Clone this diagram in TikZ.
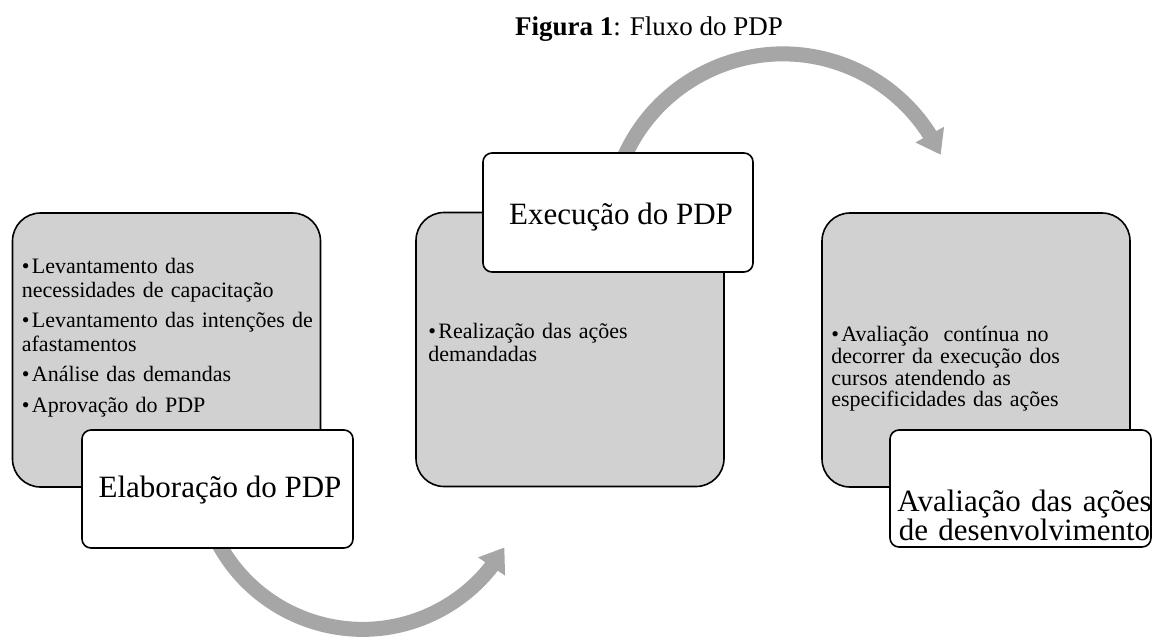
\documentclass[tikz,border=0pt]{standalone}
\usepackage{fontspec}
\setmainfont{Liberation Serif}
\usetikzlibrary{arrows.meta,bending}
\definecolor{boxgray}{RGB}{209,209,209}
\definecolor{arrowgray}{RGB}{166,166,166}
\newcommand{\itm}[1]{\hangindent=10pt\hangafter=1\noindent\makebox[10pt][l]{\textbullet}#1\par}

\begin{document}
\begin{tikzpicture}[x=1pt,y=-1pt,
    stagebox/.style={draw,line width=1.6pt,fill=boxgray,rounded corners=28pt,minimum width=308pt,minimum height=274pt,inner sep=0pt},
    namebox/.style={draw,line width=1.6pt,fill=white,rounded corners=9pt,minimum height=118pt,inner sep=0pt},
    itemtext/.style={anchor=north west,inner sep=0pt,align=left,text width=#1,font=\fontsize{22}{23.5}\selectfont,execute at begin node={\setlength{\parindent}{0pt}\setlength{\parskip}{7pt}}},
    nametext/.style={inner sep=0pt,align=center,font=\fontsize{31}{25}\selectfont},
    flow/.style={draw=arrowgray,line width=15pt,-{Triangle[width=31pt,length=23pt]}}]
    \useasboundingbox (0,0) rectangle (1153,640);

    \node[font=\fontsize{27}{30}\selectfont,anchor=base] (title) at (649,35) {\textbf{Figura 1}: Fluxo do PDP};

    \coordinate (s1) at (216.6,539.9);
    \coordinate (s2) at (621.8,162.6);
    \draw[flow] (s1) arc[start angle=153,end angle=30,radius=163.8];
    \draw[flow] (s2) arc[start angle=202,end angle=335.2,radius=173.8];

    \node[stagebox] (b1) at (166.5,350) {};
    \node[stagebox] (b2) at (570,349.5) {};
    \node[stagebox] (b3) at (976,350) {};

    \node[itemtext=300pt] (t1) at ([xshift=10pt,yshift=-46pt]b1.north west) {%
      \itm{Levantamento das\\necessidades de capacitação}
      \itm{Levantamento das intenções de\\afastamentos}
      \itm{Análise das demandas}
      \itm{Aprovação do PDP}};
    \node[itemtext=280pt] (t2) at ([xshift=13pt,yshift=-111pt]b2.north west) {%
      \itm{Realização das ações\\demandadas}};
    \node[itemtext=290pt,font=\fontsize{22}{21.7}\selectfont] (t3) at ([xshift=10pt,yshift=-114pt]b3.north west) {%
      \itm{Avaliação\ \ contínua no\\decorrer da execução dos\\cursos atendendo as\\especificidades das ações}};

    \node[namebox,minimum width=271pt] (w1) at (217.5,489) {};
    \node[namebox,minimum width=270pt,minimum height=119pt] (w2) at (618,212.5) {};
    \node[namebox,minimum width=261pt,minimum height=117pt] (w3) at (1020.5,488.5) {};

    \node[nametext,anchor=base] (n1) at ([xshift=2.5pt,yshift=-8pt]w1.center) {Elaboração do PDP};
    \node[nametext,anchor=base] (n2) at ([xshift=3pt,yshift=-11.5pt]w2.center) {Execução do PDP};
    \node[nametext,anchor=north,text width=261pt] (n3) at ([xshift=4pt,yshift=-1.5pt]w3.center) {Avaliação das ações\\de desenvolvimento};
\end{tikzpicture}
\end{document}
